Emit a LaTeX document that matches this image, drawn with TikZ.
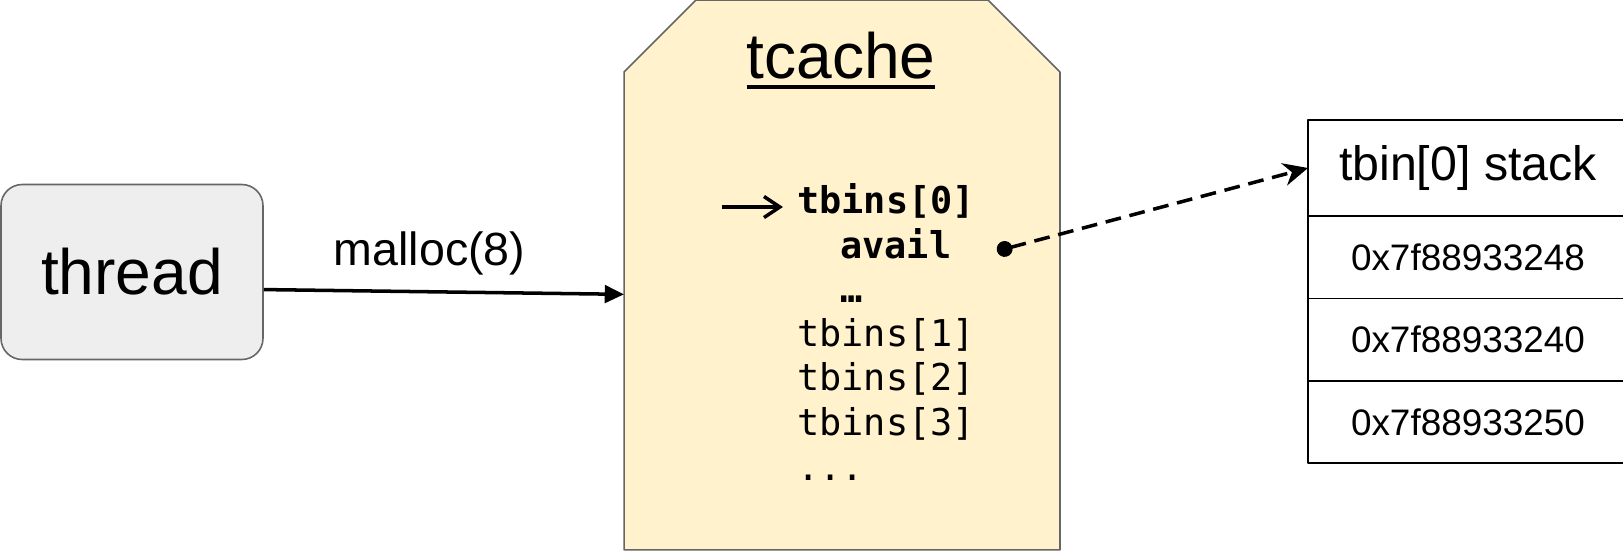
\documentclass[tikz,border=0pt]{standalone}
\usepackage{fontspec}
\setmainfont{Liberation Sans}
\setmonofont{DejaVu Sans Mono}
\usetikzlibrary{arrows.meta,positioning,calc}
\definecolor{tcfill}{HTML}{FFF2CC}
\definecolor{thfill}{HTML}{EEEEEE}
\definecolor{boxline}{HTML}{666666}
\newcommand{\ultext}[1]{\setbox0=\hbox{#1}\rlap{\copy0}\rule[-6.5pt]{\wd0}{2.4pt}}

\begin{document}
\begin{tikzpicture}[x=.02cm, y=-.02cm, line join=round,
  >={Triangle[length=11pt,width=10pt]},
  threadbox/.style={draw=boxline, fill=thfill, rounded corners=12pt, line width=.9pt,
    minimum width=5.24cm, minimum height=3.5cm, font=\fontsize{36.5}{42}\selectfont},
  tcachebox/.style={draw=boxline, fill=tcfill, line width=.9pt},
  bin/.style={anchor=base west, inner sep=0pt, font=\fontsize{21}{24}\ttfamily},
  binb/.style={bin, font=\fontsize{21}{24}\ttfamily\bfseries},
  cell/.style={draw, line width=1.1pt, outer sep=0pt, minimum width=6.4cm,
    minimum height=1.65cm, font=\fontsize{21}{24}\selectfont},
  ]
  \path[use as bounding box, clip] (0,0) rectangle (1623,552);

  \node[threadbox] (thread) at (132,272) {thread};
  % tcache outline, corners cut at the top
  \node[minimum width=8.72cm, minimum height=11cm, outer sep=0pt] (tcache) at (842,275) {};
  \draw[tcachebox] (tcache.south west) -- ($(tcache.north west)+(0,72)$)
    -- ($(tcache.north west)+(72,0)$) -- ($(tcache.north east)+(-72,0)$)
    -- ($(tcache.north east)+(0,72)$) -- (tcache.south east) -- cycle;
  \node[anchor=base, font=\fontsize{36.5}{42}\selectfont] (title) at (841,78) {\ultext{tcache}};

  % bins inside the tcache
  \node[binb] (b0) at (797,213) {tbins[0]};
  \node[binb] (avail) at (840,258) {avail};
  \node[binb] (ell) at (840,302) {…};
  \foreach \i/\y in {1/346,2/390,3/435}
    \node[bin] (b\i) at (797,\y) {tbins[\i]};
  \node[bin] (more) at (797,480) {...};

  % stack of tbin[0]
  \node[cell, anchor=north west, minimum height=1.92cm, font=\fontsize{27.5}{32}\selectfont]
    (hdr) at (1308,120) {tbin[0] stack};
  \foreach \v/\i/\p in {0x7f88933248/1/hdr, 0x7f88933240/2/r1, 0x7f88933250/3/r2}
    \node[cell, below=0pt of \p] (r\i) {\v};

  \draw[->, line width=2pt] ([yshift=-10pt]thread.east) --
    node[pos=.46, above=5pt, font=\fontsize{26.5}{30}\selectfont] (call) {malloc(8)}
    ([yshift=-11pt]tcache.west);
  \coordinate (into) at (722,207);
  \draw[-{Straight Barb[length=9pt,width=12pt]}, line width=2pt]
    (into) -- ([xshift=-8pt]into -| b0.west);
  \coordinate (availdot) at (997,251);
  \draw[dash pattern=on 9pt off 5pt, line width=2pt,
    {Circle[length=9pt]}-{Stealth[length=14pt,width=13pt]}] (availdot) -- (hdr.west);
\end{tikzpicture}
\end{document}
